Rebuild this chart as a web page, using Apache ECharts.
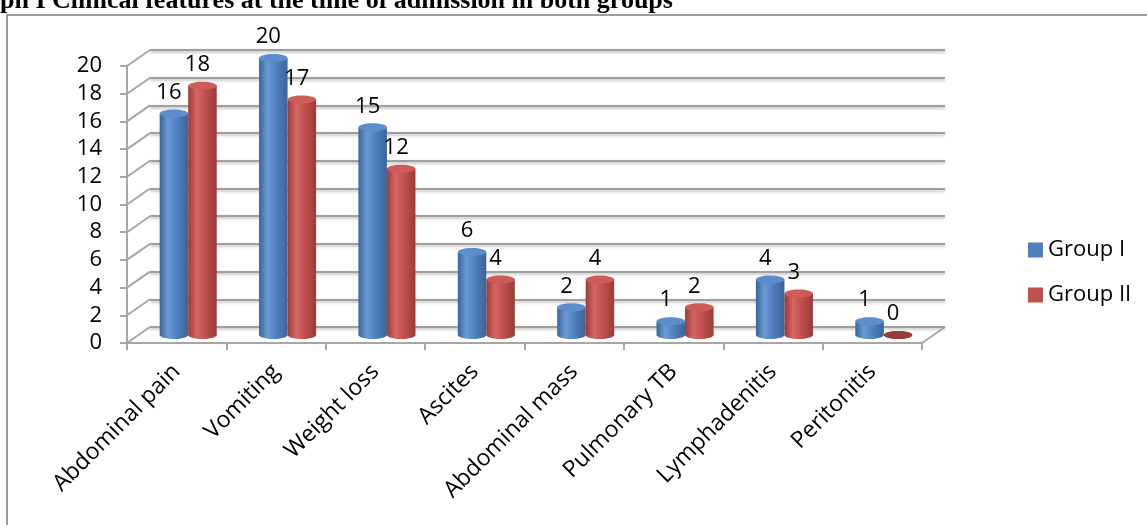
<!DOCTYPE html>
<html>
<head>
<meta charset="utf-8">
<title>Clinical features at the time of admission</title>
<script src="https://cdn.jsdelivr.net/npm/echarts@6/dist/echarts.min.js"></script>
<style>
  html, body { margin: 0; padding: 0; background: #fff; }
  #chart { width: 1147px; height: 525px; }
</style>
</head>
<body>
<div id="chart"></div>
<script>
  // data
  const categories = ['Abdominal pain', 'Vomiting', 'Weight loss', 'Ascites',
    'Abdominal mass', 'Pulmonary TB', 'Lymphadenitis', 'Peritonitis']
  const groupOne = [16, 20, 15, 6, 2, 1, 4, 1]
  const groupTwo = [18, 17, 12, 4, 4, 2, 3, 0]
  const seriesNames = ['Group I', 'Group II']
  const yTicks = [0, 2, 4, 6, 8, 10, 12, 14, 16, 18, 20]

  const FONT = 'Open Sans'
  const gridW = 795, gridH = 277
  const front = { left: 127, top: 66 }
  const mid = { left: 138.5, top: 58 }
  const back = { left: 150, top: 50 }
  const depthX = back.left - front.left
  const depthY = back.top - front.top

  // cylinder shading
  const palette = [
    { main: '#4F81BD', dark: '#3B6499', light: '#6A9AD6', top: '#5C8ECB' },
    { main: '#C0504D', dark: '#983C3A', light: '#D66663', top: '#CD5C59' }
  ]
  function cyl(p) {
    return new echarts.graphic.LinearGradient(0, 0, 1, 0, [
      { offset: 0, color: p.dark },
      { offset: 0.3, color: p.light },
      { offset: 0.6, color: p.main },
      { offset: 1, color: p.dark }
    ])
  }

  function barItem(group) {
    return function (params, api) {
      const top = api.coord([api.value(0), api.value(1)])
      const base = api.coord([api.value(0), 0])
      const band = api.size([1, 0])[0]
      const w = band * 0.287
      const cx = top[0] + (group === 0 ? -w / 2 : w / 2)
      const ry = 4
      const p = palette[group]
      const h = base[1] - top[1]
      const kids = [
        { type: 'ellipse', shape: { cx: cx, cy: base[1], rx: w / 2, ry: ry }, style: { fill: cyl(p) } },
        { type: 'rect', shape: { x: cx - w / 2, y: top[1], width: w, height: h }, style: { fill: cyl(p) } },
        { type: 'ellipse', shape: { cx: cx, cy: top[1], rx: w / 2, ry: ry },
          style: { fill: h > 0 ? p.top : p.dark } },
        { type: 'text', x: cx - 5, y: top[1] - 21,
          style: { text: String(api.value(1)), fill: '#000', font: '22px "' + FONT + '"',
            align: 'center', verticalAlign: 'middle' } }
      ]
      return { type: 'group', children: kids }
    }
  }

  // depth lines joining the front axis to the back wall
  function wallItem(params, api) {
    const v = api.value(0)
    const y = api.coord([0, v])[1]
    const x0 = params.coordSys.x
    const ls = { stroke: '#a6a6a6', lineWidth: 2 }
    const kids = [
      { type: 'line', shape: { x1: x0, y1: y, x2: x0 + depthX, y2: y + depthY }, style: ls }
    ]
    if (v === 0) {
      const x1 = x0 + params.coordSys.width
      kids.push({ type: 'line', shape: { x1: x1, y1: y, x2: x1 + depthX, y2: y + depthY }, style: ls })
    }
    return { type: 'group', children: kids }
  }

  const grids = [front, mid, back].map(g => ({ left: g.left, top: g.top, width: gridW, height: gridH }))

  const xAxes = [0, 1, 2].map(i => ({
    type: 'category',
    gridIndex: i,
    data: categories,
    show: i === 0,
    axisLine: { show: true, lineStyle: { color: '#a6a6a6', width: 2 } },
    axisTick: { show: true, length: 7, lineStyle: { color: '#a6a6a6', width: 2 } },
    axisLabel: { rotate: 45, margin: 25, color: '#000', fontSize: 23, fontFamily: FONT, interval: 0 },
    splitLine: { show: false }
  }))

  const yAxes = [0, 1, 2].map(i => ({
    type: 'value',
    gridIndex: i,
    min: 0, max: 20, interval: 2,
    axisLine: { show: i === 0, lineStyle: { color: '#a6a6a6', width: 2 } },
    axisTick: { show: i === 0, length: 7, lineStyle: { color: '#a6a6a6', width: 2 } },
    axisLabel: { show: i === 0, margin: 25, color: '#000', fontSize: 22, fontFamily: FONT },
    splitLine: {
      show: i === 2,
      lineStyle: { color: '#a0a0a0', width: 2, shadowBlur: 3, shadowColor: 'rgba(0,0,0,0.3)', shadowOffsetY: 1.5 }
    }
  }))

  const option = {
    animation: false,
    backgroundColor: '#fff',
    textStyle: { fontFamily: FONT },
    graphic: [
      { type: 'rect', shape: { x: 7, y: 15, width: 1200, height: 600 }, silent: true,
        style: { fill: 'none', stroke: '#808080', lineWidth: 1.5 } },
      { type: 'text', x: 0, y: 14, silent: true,
        style: { text: 'ph I Clinical features at the time of admission in both groups',
          font: 'bold 26px "Liberation Serif"', fill: '#000', verticalAlign: 'bottom' } }
    ],
    legend: {
      orient: 'vertical',
      left: 1023,
      top: 234,
      itemWidth: 15,
      itemHeight: 15,
      itemGap: 23,
      icon: 'rect',
      data: seriesNames,
      textStyle: { color: '#000', fontSize: 22, fontFamily: FONT }
    },
    grid: grids,
    xAxis: xAxes,
    yAxis: yAxes,
    series: [
      {
        type: 'custom', name: 'wall', xAxisIndex: 0, yAxisIndex: 0, silent: true,
        renderItem: wallItem, data: yTicks.map(v => [v]), z: 1
      },
      {
        type: 'custom', name: seriesNames[0], xAxisIndex: 1, yAxisIndex: 1,
        itemStyle: { color: '#4F81BD' }, renderItem: barItem(0),
        data: groupOne.map((v, i) => [i, v]), z: 3
      },
      {
        type: 'custom', name: seriesNames[1], xAxisIndex: 1, yAxisIndex: 1,
        itemStyle: { color: '#C0504D' }, renderItem: barItem(1),
        data: groupTwo.map((v, i) => [i, v]), z: 3
      }
    ]
  }

  const chart = echarts.init(document.getElementById('chart'))
  chart.setOption(option)
</script>
</body>
</html>
